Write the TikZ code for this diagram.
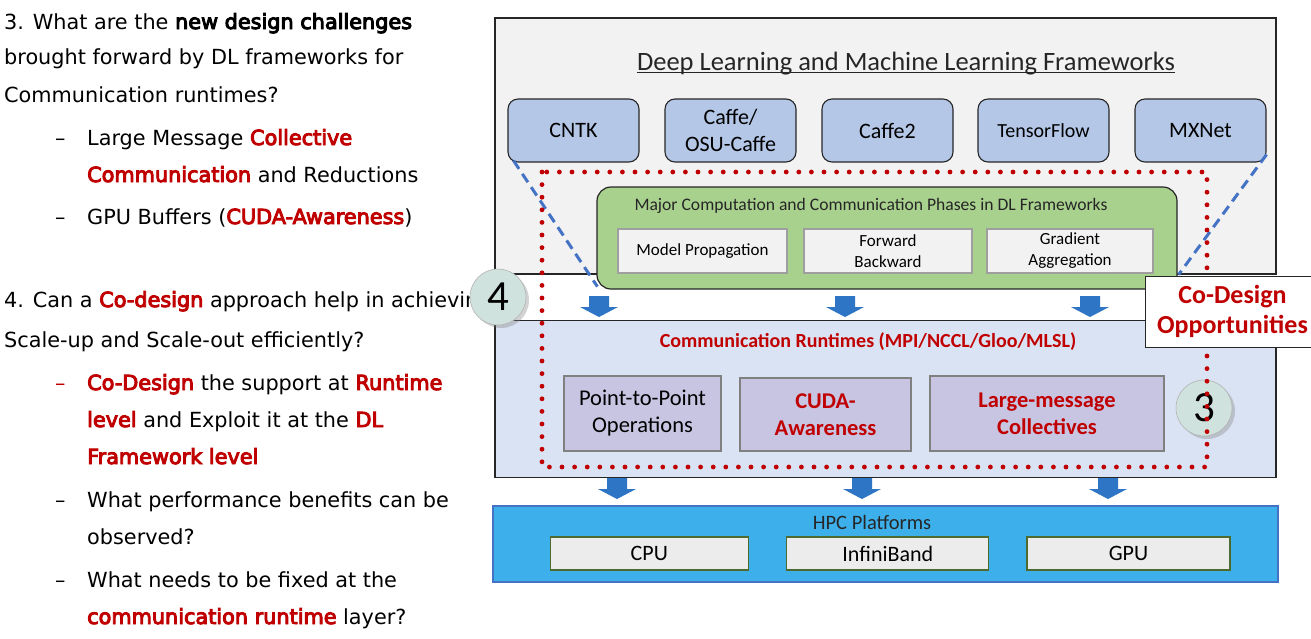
\documentclass[tikz,border=0pt]{standalone}
\usepackage{fontspec}
\setmainfont{DejaVu Sans}[BoldFont={DejaVu Sans},BoldFeatures={FakeBold=4.5}]
\newfontfamily\calfont{Carlito}
\usetikzlibrary{shadows,calc}
\definecolor{dkred}{HTML}{C00000}
\definecolor{topfill}{HTML}{F2F2F2}
\definecolor{fwfill}{HTML}{B4C7E7}
\definecolor{greenfill}{HTML}{A9D18E}
\definecolor{commfill}{HTML}{DAE3F3}
\definecolor{purplefill}{HTML}{C8C5E3}
\definecolor{hpcfill}{HTML}{3DB0EC}
\definecolor{hpcborder}{HTML}{4472C4}
\definecolor{olive}{HTML}{4E6B2F}
\definecolor{arrowblue}{HTML}{2E75C6}
\definecolor{dashblue}{HTML}{4472C4}
\definecolor{circfill}{HTML}{D0E2DE}
\definecolor{darkline}{HTML}{262626}
\newcommand\rb[1]{\textcolor{dkred}{\textbf{#1}}}
\begin{document}
\begin{tikzpicture}[x=1pt,y=-1pt,
  lefttext/.style={anchor=base west,inner sep=0pt,font=\fontsize{20.8}{24}\selectfont},
  container/.style={draw=darkline,line width=1.2pt,inner sep=0pt},
  fwbox/.style={draw=darkline,fill=fwfill,rounded corners=10pt,line width=1.1pt,minimum width=131pt,minimum height=63pt,inner sep=0pt,align=center,font=\calfont\fontsize{22}{27}\selectfont},
  phasebox/.style={draw=gray!75,fill=topfill,line width=1.3pt,minimum height=44pt,inner sep=0pt,align=center,font=\calfont\fontsize{17}{21}\selectfont},
  rtbox/.style={draw=gray,fill=purplefill,line width=1.2pt,inner sep=0pt,align=center,font=\calfont\fontsize{22.5}{27}\selectfont},
  hwbox/.style={draw=olive,fill=topfill!95!gray,line width=1.2pt,minimum height=33pt,inner sep=0pt,font=\calfont\fontsize{22}{26}\selectfont},
  numcirc/.style={circle,draw=gray!60,fill=circfill,line width=0.6pt,minimum size=56pt,inner sep=0pt,font=\calfont\fontsize{43}{43}\selectfont,drop shadow={opacity=0.35,shadow xshift=3pt,shadow yshift=-3pt}},
  darrow/.pic={\fill[arrowblue] (-10,0) -- (10,0) -- (10,11) -- (19,11) -- (0,21) -- (-19,11) -- (-10,11) -- cycle;}
]
\useasboundingbox[fill=white] (0,0) rectangle (1311,638);

% ---------------- left text ----------------
\node[lefttext] (l1) at (4,29) {3. What are the \textbf{new design challenges}};
\node[lefttext] (l2) at (4,64) {brought forward by DL frameworks for};
\node[lefttext] (l3) at (4,102) {Communication runtimes?};
\node[lefttext] (d1) at (55,145) {--};
\node[lefttext] (l4) at (87,145) {Large Message \rb{Collective}};
\node[lefttext] (l5) at (87,182) {\rb{Communication} and Reductions};
\node[lefttext] (d2) at (55,224) {--};
\node[lefttext] (l6) at (87,224) {GPU Buffers (\rb{CUDA-Awareness})};
\node[lefttext] (l7) at (4,307) {4. Can a \rb{Co-design} approach help in achieving};
\node[lefttext] (l8) at (4,347) {Scale-up and Scale-out efficiently?};
\node[lefttext,text=dkred] (d3) at (55,390) {--};
\node[lefttext] (l9) at (87,390) {\rb{Co-Design} the support at \rb{Runtime}};
\node[lefttext] (l10) at (87,427) {\rb{level} and Exploit it at the \rb{DL}};
\node[lefttext] (l11) at (87,464) {\rb{Framework level}};
\node[lefttext] (d4) at (55,507) {--};
\node[lefttext] (l12) at (87,507) {What performance benefits can be};
\node[lefttext] (l13) at (87,544) {observed?};
\node[lefttext] (d5) at (55,587) {--};
\node[lefttext] (l14) at (87,587) {What needs to be fixed at the};
\node[lefttext] (l15) at (87,624) {\rb{communication runtime} layer?};

% ---------------- frameworks layer ----------------
\node[container,fill=topfill,minimum width=781pt,minimum height=256pt] (fw) at (885.5,146) {};
\node[anchor=base,inner sep=0pt,text=darkline,font=\calfont\fontsize{26.5}{30}\selectfont] (fwtitle) at (906,70) {Deep Learning and Machine Learning Frameworks};
\draw[darkline,line width=0.7pt] ([yshift=-2pt]fwtitle.base west) -- ([yshift=-2pt]fwtitle.base east);
\node[fwbox] (cntk) at (573.5,130.5) {CNTK};
\node[fwbox] (caffe) at (730.5,130.5) {Caffe/\\OSU-Caffe};
\node[fwbox] (caffe2) at (887.5,130.5) {Caffe2};
\node[fwbox,font=\calfont\fontsize{20}{24}\selectfont] (tf) at (1043.5,130.5) {TensorFlow};
\node[fwbox] (mxnet) at (1200.5,130.5) {MXNet};

% ---------------- communication runtimes layer ----------------
\node[container,fill=commfill,line width=1.5pt,minimum width=781pt,minimum height=157pt] (comm) at (885.5,399) {};
\node[anchor=base,inner sep=0pt,text=dkred,font=\calfont\bfseries\fontsize{20}{23}\selectfont] (commtitle) at (868,347) {Communication Runtimes (MPI/NCCL/Gloo/MLSL)};
\node[rtbox,minimum width=157pt,minimum height=75pt] (p2p) at (642.5,413.5) {Point-to-Point\\Operations};
\node[rtbox,minimum width=171pt,minimum height=73pt,text=dkred,font=\calfont\bfseries\fontsize{22.5}{27}\selectfont] (cuda) at (825.5,414.5) {CUDA-\\Awareness};
\node[rtbox,minimum width=234pt,minimum height=75pt,text=dkred,font=\calfont\bfseries\fontsize{22.5}{27}\selectfont] (large) at (1047,413.5) {Large-message\\Collectives};

% ---------------- HPC platforms layer ----------------
\node[draw=hpcborder,fill=hpcfill,line width=1.5pt,minimum width=785pt,minimum height=76pt,inner sep=0pt] (hpc) at (885.3,543.8) {};
\node[anchor=base,inner sep=0pt,text=darkline,font=\calfont\fontsize{20.5}{24}\selectfont] (hpctitle) at (872,529) {HPC Platforms};
\node[hwbox,minimum width=198pt] (cpu) at (649.3,553.5) {CPU};
\node[hwbox,minimum width=202pt] (ib) at (887.8,553.5) {InfiniBand};
\node[hwbox,minimum width=203pt] (gpu) at (1128.5,553.5) {GPU};

% ---------------- DL phases ----------------
\node[draw=darkline,fill=greenfill,rounded corners=14pt,line width=1.2pt,minimum width=580pt,minimum height=102pt,inner sep=0pt] (green) at (887,238) {};
\node[anchor=base,inner sep=0pt,text=darkline,font=\calfont\fontsize{17.6}{20}\selectfont] (greentitle) at (871,210) {Major Computation and Communication Phases in DL Frameworks};
\node[phasebox,minimum width=169pt] (model) at (702.5,251) {Model Propagation};
\node[phasebox,minimum width=168pt] (fb) at (888,251) {Forward\\Backward};
\node[phasebox,minimum width=166pt] (ga) at (1070,251) {Gradient\\Aggregation};

% ---------------- dashed zoom lines ----------------
\draw[dashblue,line width=3pt,dash pattern=on 10pt off 6pt] ([xshift=6pt,yshift=2pt]cntk.south west) -- ([xshift=1pt,yshift=3pt]green.south west);
\draw[dashblue,line width=3pt,dash pattern=on 10pt off 6pt] ([yshift=8pt]mxnet.south east) -- ([xshift=1pt,yshift=15pt]green.south east);

% ---------------- block arrows ----------------
\pic at (599,296) {darrow};
\pic at (845,296) {darrow};
\pic at (1090,296) {darrow};
\pic at (617,478) {darrow};
\pic at (862,478) {darrow};
\pic at (1108,478) {darrow};

% ---------------- numbered circles ----------------
\node[numcirc] (c4) at (498,297) {4};
\node[numcirc] (c3) at (1204,408) {3};

% ---------------- co-design region ----------------
\coordinate (rtl) at (542,172);
\coordinate (rbr) at (1207,467);
\draw[dkred,line width=4.8pt,line cap=round,dash pattern=on 0pt off 12.6pt] (rtl) rectangle (rbr);

\node[draw=darkline,fill=white,line width=1pt,minimum width=175pt,minimum height=71pt,inner sep=0pt,align=center,text=dkred,font=\calfont\bfseries\fontsize{26}{30}\selectfont] (codesign) at (1232.5,311.5) {Co-Design\\Opportunities};
\end{tikzpicture}
\end{document}
